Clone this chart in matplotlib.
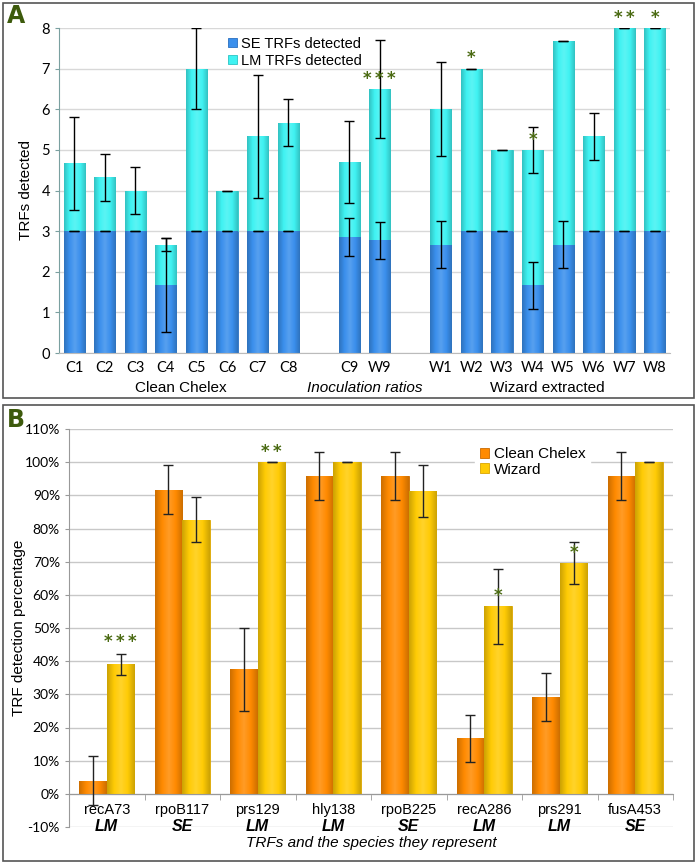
import numpy as np
import matplotlib
matplotlib.use("Agg")
import matplotlib.pyplot as plt
from matplotlib.patches import Rectangle
from matplotlib.ticker import FixedLocator
from matplotlib.colors import LinearSegmentedColormap, to_rgb

plt.rcParams["font.family"] = ["Liberation Sans", "DejaVu Sans"]

# ---- panel A data ----
a_labels = ["C1", "C2", "C3", "C4", "C5", "C6", "C7", "C8", "", "C9", "W9", "",
            "W1", "W2", "W3", "W4", "W5", "W6", "W7", "W8"]
se_vals = [3, 3, 3, 1.67, 3, 3, 3, 3, None, 2.85, 2.77, None,
           2.67, 3, 3, 1.67, 2.67, 3, 3, 3]
se_err = [0, 0, 0, 1.15, 0, 0, 0, 0, None, 0.47, 0.46, None,
          0.58, 0, 0, 0.58, 0.58, 0, 0, 0]
tot_vals = [4.67, 4.33, 4.0, 2.67, 7.0, 4.0, 5.33, 5.67, None, 4.7, 6.5, None,
            6.0, 7.0, 5.0, 5.0, 7.67, 5.33, 8.0, 8.0]
tot_err = [1.15, 0.58, 0.58, 0.15, 1.0, 0, 1.52, 0.58, None, 1.0, 1.2, None,
           1.16, 0, 0, 0.57, 0, 0.58, 0, 0]
a_stars = {"W9": "***", "W2": "*", "W4": "*", "W7": "**", "W8": "*"}
a_groups = ["Clean Chelex", "Inoculation ratios", "Wizard extracted"]

# ---- panel B data ----
b_labels = ["recA73", "rpoB117", "prs129", "hly138", "rpoB225", "recA286", "prs291", "fusA453"]
b_species = ["LM", "SE", "LM", "LM", "SE", "LM", "LM", "SE"]
chelex = [4, 91.7, 37.5, 95.8, 95.8, 16.7, 29.2, 95.8]
chelex_err = [7.3, 7.3, 12.5, 7.2, 7.2, 7.2, 7.3, 7.2]
wizard = [39, 82.7, 100, 100, 91.4, 56.5, 69.5, 100]
wizard_err = [3.2, 6.8, 0, 0, 7.8, 11.3, 6.3, 0]
# star text and the height it sits at
b_stars = {"recA73": ("***", 43), "prs129": ("**", 100.5), "recA286": ("*", 57), "prs291": ("*", 70)}

SE_C = "#3a8fec"
LM_C = "#3ff2f2"
OR_C = "#ff8a00"
YE_C = "#ffcb05"
STAR_C = "#4a6a12"
LETTER_C = "#3d5a0c"
TICK_FONT = ["Lato", "DejaVu Sans"]


def spaced(s):
    return "\u2009".join(s)


def shade(ax, bars, color):
    # fake the bevelled look: darker at the sides, lighter in the middle
    c = np.array(to_rgb(color))
    dark = c * 0.8
    light = np.minimum(c + (1 - c) * 0.15, 1)
    cmap = LinearSegmentedColormap.from_list("s", [dark, c, light, c, dark])
    grad = np.linspace(0, 1, 64).reshape(1, -1)
    xl, yl = ax.get_xlim(), ax.get_ylim()
    for b in bars:
        if b.get_height() == 0:
            continue
        x0, y0 = b.get_x(), b.get_y()
        im = ax.imshow(grad, cmap=cmap, aspect="auto", zorder=2.1,
                       extent=(x0, x0 + b.get_width(), y0, y0 + b.get_height()))
        im.set_clip_path(b)
    ax.set_xlim(xl)
    ax.set_ylim(yl)


fig = plt.figure(figsize=(6.98, 8.64), dpi=100)
fig.patch.set_facecolor("white")

# panel frames
for y0, h in [(1 - 398 / 864, 395 / 864), (1 - 861 / 864, 456 / 864)]:
    fig.patches.append(Rectangle((3 / 698, y0), 691 / 698, h, transform=fig.transFigure,
                                 fill=False, edgecolor="#555555", lw=1.2))
fig.text(7 / 698, 1 - 16 / 864, "A", fontsize=17, fontweight="bold", color=LETTER_C, va="center",
         family=["DejaVu Sans"])
fig.text(7 / 698, 1 - 420 / 864, "B", fontsize=17, fontweight="bold", color=LETTER_C, va="center",
         family=["DejaVu Sans"])

# ================= panel A =================
ax = fig.add_axes([59 / 698, 1 - 353 / 864, 611 / 698, 325 / 864])
x = np.arange(len(a_labels))
w = 0.69
ax.set_xlim(-0.5, len(a_labels) - 0.5)
ax.set_ylim(0, 8)
for i in x:
    if se_vals[i] is None:
        continue
    lm = tot_vals[i] - se_vals[i]
    b1 = ax.bar(i, se_vals[i], w, color=SE_C, edgecolor="#2a6fc0", lw=0.6, zorder=2,
                label="SE TRFs detected" if i == 0 else None)
    b2 = ax.bar(i, lm, w, bottom=se_vals[i], color=LM_C, edgecolor="#2bc4c4", lw=0.6, zorder=2,
                label="LM TRFs detected" if i == 0 else None)
    shade(ax, b1, SE_C)
    shade(ax, b2, LM_C)
    ax.errorbar(i, se_vals[i], yerr=se_err[i], color="black", capsize=3.5, lw=1, capthick=1, zorder=3)
    ax.errorbar(i, tot_vals[i], yerr=tot_err[i], color="black", capsize=3.5, lw=1, capthick=1, zorder=3)
    if a_labels[i] in a_stars:
        ax.text(i, tot_vals[i] + 0.03, spaced(a_stars[a_labels[i]]), ha="center", va="bottom",
                fontsize=12, fontweight="bold", color=STAR_C, zorder=4,
                family=["DejaVu Sans"])

ax.set_yticks(range(0, 9))
ax.set_xticks(x)
ax.set_xticklabels(a_labels, fontsize=10.5, family=TICK_FONT)
ax.set_yticklabels([str(v) for v in range(0, 9)], fontsize=10.5, family=TICK_FONT)
ax.tick_params(axis="x", length=0, pad=6)
ax.tick_params(axis="y", length=3, color="#7aa0a0")
ax.grid(axis="y", color="#d8d8d8", lw=1, zorder=0)
ax.set_axisbelow(True)
for s in ["top", "right"]:
    ax.spines[s].set_visible(False)
ax.spines["left"].set_color("#7aa0a0")
ax.spines["bottom"].set_color("#bbbbbb")
ax.set_ylabel("TRFs detected", fontsize=11)
ax.yaxis.set_label_coords(-0.042, 0.5)
xt = ax.get_xaxis_transform()
ax.text(3.5, -0.108, a_groups[0], transform=xt, fontsize=11, ha="center", va="center")
ax.text(9.5, -0.108, a_groups[1], transform=xt, fontsize=11, ha="center", va="center",
        style="italic")
ax.text(15.5, -0.108, a_groups[2], transform=xt, fontsize=11, ha="center", va="center")
ax.legend(loc="upper left", bbox_to_anchor=(0.262, 1.0), frameon=False, fontsize=10.5,
          handlelength=0.6, handleheight=0.6, handletextpad=0.3, labelspacing=0.2,
          borderaxespad=0.2)

# ================= panel B =================
bx = fig.add_axes([69 / 698, 1 - 827 / 864, 604 / 698, 398 / 864])
xb = np.arange(len(b_labels))
bw = 0.365
bx.set_xlim(-0.5, len(b_labels) - 0.5)
bx.set_ylim(-10, 110)
bo = bx.bar(xb - bw / 2, chelex, bw, color=OR_C, edgecolor="#c96a00", lw=0.6, zorder=2,
            label="Clean Chelex")
by = bx.bar(xb + bw / 2, wizard, bw, color=YE_C, edgecolor="#d9a400", lw=0.6, zorder=2,
            label="Wizard")
shade(bx, bo, OR_C)
shade(bx, by, YE_C)
bx.errorbar(xb - bw / 2, chelex, yerr=chelex_err, fmt="none", ecolor="#222222", capsize=3.5,
            lw=1, capthick=1, zorder=3)
bx.errorbar(xb + bw / 2, wizard, yerr=wizard_err, fmt="none", ecolor="#222222", capsize=3.5,
            lw=1, capthick=1, zorder=3)
for i, lab in enumerate(b_labels):
    if lab in b_stars:
        s, sy = b_stars[lab]
        bx.text(i + bw / 2, sy, spaced(s), ha="center", va="bottom",
                fontsize=12, fontweight="bold", color=STAR_C, zorder=4,
                family=["DejaVu Sans"])
    bx.text(i, -4.8, lab, ha="center", va="center", fontsize=10.5)
    bx.text(i, -9.8, b_species[i], ha="center", va="center", fontsize=11.5,
            fontweight="bold", style="italic")

bx.set_yticks(range(-10, 111, 10))
bx.set_yticklabels([f"{v}%" for v in range(-10, 111, 10)], fontsize=10, family=TICK_FONT)
bx.set_xticks([])
bx.xaxis.set_minor_locator(FixedLocator(np.arange(-0.5, len(b_labels), 1.0)))
bx.tick_params(axis="x", which="minor", length=4, color="#999999", direction="out")
bx.tick_params(axis="y", length=3, color="#999999")
bx.spines["bottom"].set_position(("data", 0))
bx.spines["bottom"].set_color("#999999")
bx.spines["left"].set_color("#999999")
for s in ["top", "right"]:
    bx.spines[s].set_visible(False)
bx.grid(axis="y", color="#c8c8c8", lw=1, zorder=0)
bx.set_axisbelow(True)
bx.set_ylabel("TRF detection percentage", fontsize=11)
bx.yaxis.set_label_coords(-0.072, 0.5)
bx.text(0.5, -0.04, "TRFs and the species they represent", transform=bx.transAxes,
        ha="center", va="center", fontsize=11, style="italic")
leg = bx.legend(loc="upper left", bbox_to_anchor=(0.66, 0.985), frameon=True, fontsize=11,
                handlelength=0.6, handleheight=0.6, handletextpad=0.3, labelspacing=0.1,
                borderpad=0.3, fancybox=False)
leg.get_frame().set_edgecolor("white")
leg.get_frame().set_facecolor("white")
leg.get_frame().set_alpha(1)

fig.savefig("out.png", dpi=100)
